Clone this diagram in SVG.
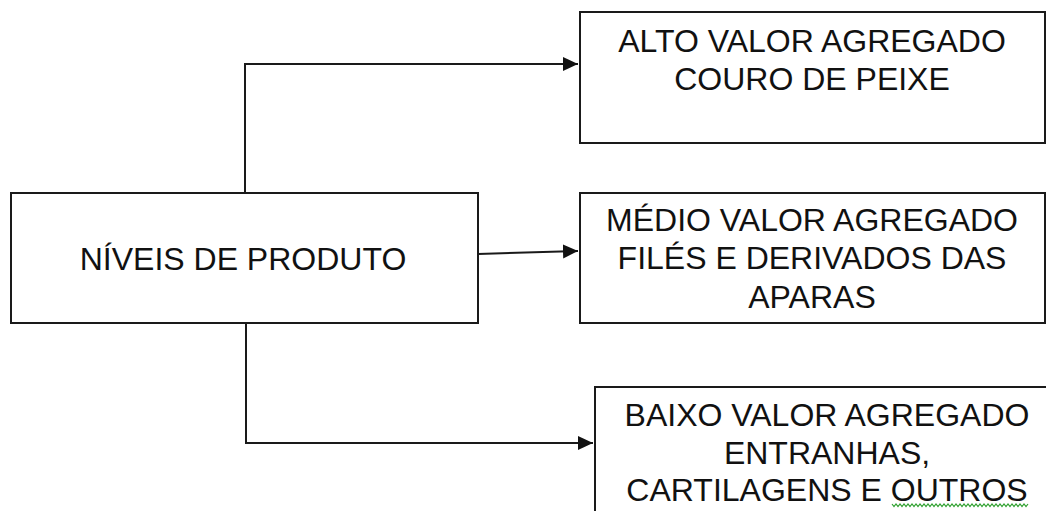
<svg xmlns="http://www.w3.org/2000/svg" width="1046" height="511" viewBox="0 0 1046 511">
  <style>
    .box { fill: #ffffff; stroke: #1a1a1a; stroke-width: 2; }
    .lbl { font-family: "Liberation Sans", Arial, sans-serif; font-size: 32px; fill: #111111; text-anchor: middle; }
    .conn { fill: none; stroke: #1a1a1a; stroke-width: 2; }
    .spell { fill: none; stroke: #2ea02e; stroke-width: 1.2; }
  </style>
  <defs>
    <marker id="arrow" markerUnits="userSpaceOnUse" markerWidth="16" markerHeight="16" refX="15" refY="7" orient="auto">
      <path d="M0,0 L15,7 L0,14 Z" fill="#111111"/>
    </marker>
  </defs>
  <rect width="1046" height="511" fill="#ffffff"/>

  <!-- connectors -->
  <g id="connectors">
    <polyline class="conn" points="245,193 245,64 578,64" marker-end="url(#arrow)"/>
    <line class="conn" x1="478" y1="254" x2="578" y2="251" marker-end="url(#arrow)"/>
    <polyline class="conn" points="246,323 246,443 593,443" marker-end="url(#arrow)"/>
  </g>

  <g id="niveis">
    <rect class="box" x="11" y="193" width="467" height="130"/>
    <text class="lbl" x="243" y="270">NÍVEIS DE PRODUTO</text>
  </g>

  <g id="alto">
    <rect class="box" x="580" y="12" width="465" height="131"/>
    <text class="lbl" x="812" y="52">ALTO VALOR AGREGADO</text>
    <text class="lbl" x="812" y="90">COURO DE PEIXE</text>
  </g>

  <g id="medio">
    <rect class="box" x="580" y="193" width="465" height="130"/>
    <text class="lbl" x="812" y="231">MÉDIO VALOR AGREGADO</text>
    <text class="lbl" x="812" y="269">FILÉS E DERIVADOS DAS</text>
    <text class="lbl" x="812" y="308">APARAS</text>
  </g>

  <g id="baixo">
    <rect class="box" x="595" y="387" width="470" height="140"/>
    <text class="lbl" x="827" y="426">BAIXO VALOR AGREGADO</text>
    <text class="lbl" x="827" y="464">ENTRANHAS,</text>
    <text class="lbl" x="827" y="501">CARTILAGENS E OUTROS</text>
    <polyline class="spell" points="892,504 894,506.5 896,504 898,506.5 900,504 902,506.5 904,504 906,506.5 908,504 910,506.5 912,504 914,506.5 916,504 918,506.5 920,504 922,506.5 924,504 926,506.5 928,504 930,506.5 932,504 934,506.5 936,504 938,506.5 940,504 942,506.5 944,504 946,506.5 948,504 950,506.5 952,504 954,506.5 956,504 958,506.5 960,504 962,506.5 964,504 966,506.5 968,504 970,506.5 972,504 974,506.5 976,504 978,506.5 980,504 982,506.5 984,504 986,506.5 988,504 990,506.5 992,504 994,506.5 996,504 998,506.5 1000,504 1002,506.5 1004,504 1006,506.5 1008,504 1010,506.5 1012,504 1014,506.5 1016,504 1018,506.5 1020,504 1022,506.5 1024,504 1026,506.5 1028,504"/>
  </g>
</svg>
